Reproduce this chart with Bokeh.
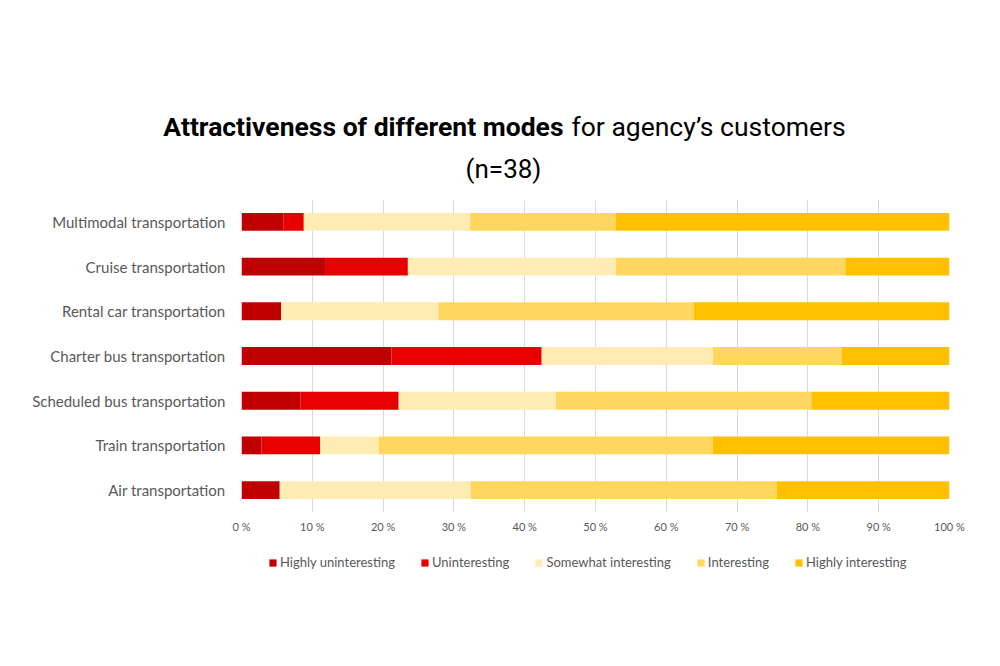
from bokeh.plotting import figure
from bokeh.layouts import column, row
from bokeh.models import FactorRange, FixedTicker, Legend, LegendItem, ColumnDataSource
from bokeh.core.properties import value
from bokeh.embed import file_html
from bokeh.resources import INLINE

modes = ["Air transportation", "Train transportation", "Scheduled bus transportation",
         "Charter bus transportation", "Rental car transportation", "Cruise transportation",
         "Multimodal transportation"]
highly_uninteresting = [5.4, 2.8, 8.3, 21.2, 5.6, 11.8, 5.9]
uninteresting = [0.0, 8.3, 13.9, 21.2, 0.0, 11.7, 2.9]
somewhat_interesting = [27.0, 8.3, 22.2, 24.2, 22.2, 29.4, 23.5]
interesting = [43.2, 47.2, 36.1, 18.2, 36.1, 32.4, 20.6]
highly_interesting = [24.4, 33.4, 19.5, 15.2, 36.1, 14.7, 47.1]
series_names = ["Highly uninteresting", "Uninteresting", "Somewhat interesting", "Interesting", "Highly interesting"]
colors = ["#C00000", "#E60000", "#FFECB3", "#FFD75E", "#FFC000"]
tick_values = [0, 10, 20, 30, 40, 50, 60, 70, 80, 90, 100]
tick_labels = ["0 %", "10 %", "20 %", "30 %", "40 %", "50 %", "60 %", "70 %", "80 %", "90 %", "100 %"]
title_bold = "Attractiveness of different modes"
title_regular = "for agency\u2019s customers"
subtitle = "(n=38)"

W = 984

# ---- title figure ----
tf = figure(width=W, height=198, x_range=(0, W), y_range=(0, 198), x_axis_type=None, y_axis_type=None,
            output_backend="svg", toolbar_location=None, min_border=0)
tf.outline_line_color = None
tf.text(x=[563], y=[72], text=[title_bold], text_font=value("Roboto"), text_font_style="bold",
        text_font_size="26.5px", text_align="right", text_baseline="middle", text_color="black")
tf.text(x=[571], y=[72], text=[title_regular], text_font=value("Roboto"), text_font_style="normal",
        text_font_size="26.5px", text_align="left", text_baseline="middle", text_color="black")
tf.text(x=[503], y=[30], text=[subtitle], text_font=value("Roboto"), text_font_style="normal",
        text_font_size="26px", text_align="center", text_baseline="middle", text_color="black")

# ---- main figure ----
keys = ["hu", "u", "si", "i", "hi"]
source = ColumnDataSource(dict(mode=modes, hu=highly_uninteresting, u=uninteresting,
                               si=somewhat_interesting, i=interesting, hi=highly_interesting))

p = figure(width=W, height=348, y_range=FactorRange(factors=modes, range_padding=0),
           x_range=(0, 100), output_backend="svg", toolbar_location=None,
           min_border_left=241, min_border_right=35, min_border_top=1, min_border_bottom=34)
p.outline_line_color = None

p.hbar_stack(keys, y="mode", height=0.4, color=colors, source=source, line_color=None)

p.xaxis.ticker = FixedTicker(ticks=tick_values)
p.xaxis.major_label_overrides = {v: l for v, l in zip(tick_values, tick_labels)}
for ax in (p.xaxis, p.yaxis):
    ax.axis_line_color = None
    ax.major_tick_line_color = None
    ax.minor_tick_line_color = None
    ax.major_label_text_color = "#595959"
    ax.major_label_text_font = "Lato"
p.xaxis.major_label_text_font_size = "11px"
p.xaxis.major_label_standoff = 1
p.yaxis.major_label_text_font_size = "15px"
p.yaxis.major_label_standoff = 10
p.ygrid.grid_line_color = None
p.xgrid.grid_line_color = "#D9D9D9"
p.xgrid.grid_line_width = 1

# ---- legend figure ----
lf = figure(width=W, height=104, x_range=(0, 1), y_range=(0, 1), x_axis_type=None, y_axis_type=None,
            output_backend="svg", toolbar_location=None, min_border=0)
lf.outline_line_color = None
items = []
for n, c in zip(series_names, colors):
    r = lf.rect(x=[-5], y=[-5], width=1, height=1, fill_color=c, line_color=None)
    items.append(LegendItem(label=n, renderers=[r]))
legend = Legend(items=items, orientation="horizontal", location=(27, 80),
                label_text_font="Lato", label_text_font_size="13px", label_text_color="#595959",
                glyph_width=9, glyph_height=9, label_standoff=3, spacing=25,
                border_line_color=None, background_fill_alpha=0, margin=0, padding=4)
lf.add_layout(legend)

layout = column(row(tf), p, lf, spacing=0)
open("out.html", "w").write(file_html(layout, INLINE))
